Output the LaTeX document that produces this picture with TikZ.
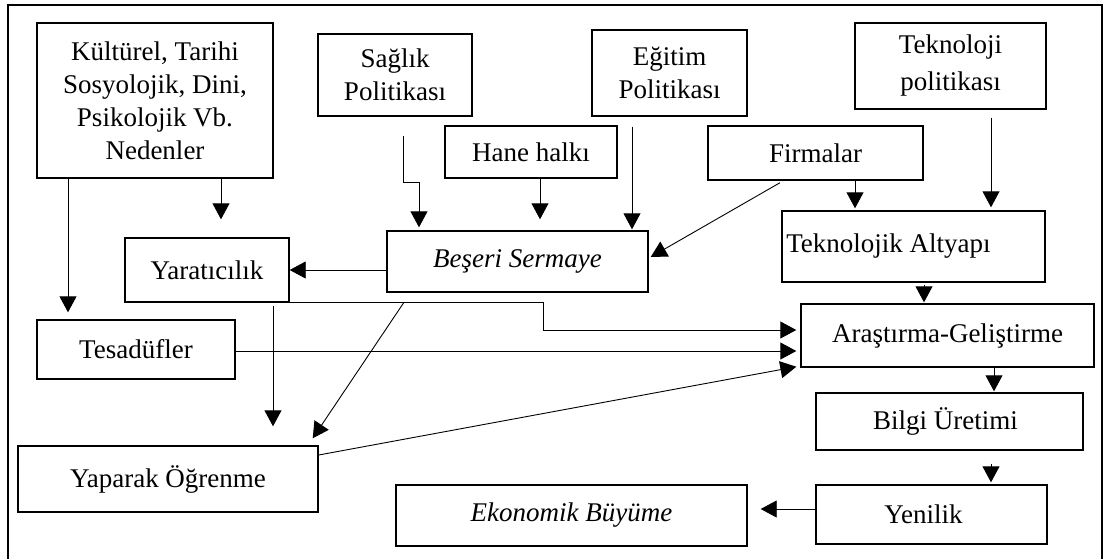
\documentclass[tikz,border=0pt]{standalone}
\usepackage{fontspec}
\setmainfont{Liberation Serif}
\usetikzlibrary{arrows.meta,calc}
\begin{document}
\begin{tikzpicture}[x=1pt,y=-1pt,
  box/.style={draw, line width=1.4pt, align=center, inner sep=0pt, font=\fontsize{27}{33}\selectfont},
  arr/.style={line width=0.9pt, -{Triangle[length=16pt,width=17pt]}},
  frame/.style={line width=2.2pt}]
\useasboundingbox (0,0) rectangle (1105,558);
\draw[frame] (8,560) -- (8,5) -- (1102,5) -- (1102,560);

\node[box, minimum width=236pt, minimum height=155pt] (kult) at (155,100.5) {Kültürel, Tarihi\\Sosyolojik, Dini,\\Psikolojik Vb.\\Nedenler};
\node[box, minimum width=154pt, minimum height=82pt] (sag) at (395,75) {Sağlık\\Politikası};
\node[box, minimum width=155pt, minimum height=86pt] (egit) at (669.5,73) {Eğitim\\Politikası};
\node[box, minimum width=191pt, minimum height=86pt, font=\fontsize{27}{37}\selectfont] (tpol) at (950.5,66) {Teknoloji\\politikası};
\node[box, minimum width=172pt, minimum height=52pt] (hane) at (531,152) {Hane halkı};
\node[box, minimum width=215pt, minimum height=54pt] (firma) at (815.5,153) {Firmalar};
\node[box, minimum width=261pt, minimum height=61pt] (beseri) at (517.5,261.5) {\textit{Beşeri Sermaye}};
\node[box, minimum width=164pt, minimum height=64pt] (yarat) at (207,270) {Yaratıcılık};
\node[box, minimum width=263pt, minimum height=71pt] (talt) at (913.5,246.5) {\hspace*{-50pt}Teknolojik Altyapı};
\node[box, minimum width=198pt, minimum height=59pt] (tesad) at (136,349.5) {Tesadüfler};
\node[box, minimum width=293pt, minimum height=63pt] (arge) at (947.5,335.5) {Araştırma-Geliştirme};
\node[box, minimum width=267pt, minimum height=57pt] (bilgi) at (949.5,421.5) {\hspace*{-8pt}Bilgi Üretimi};
\node[box, minimum width=300pt, minimum height=66pt] (yapar) at (168,479) {Yaparak Öğrenme};
\node[box, minimum width=351pt, minimum height=61pt] (ekon) at (571.5,515.5) {\textit{Ekonomik Büyüme}};
\node[box, minimum width=231pt, minimum height=59pt] (yenil) at (931.5,514.5) {\hspace*{-16pt}Yenilik};

% connectors
\draw[arr, shorten >=18pt] ($(kult.south)+(66,0)$) -- ($(yarat.north)+(14,0)$);
\draw[arr, shorten >=7pt] ($(kult.south)+(-87,0)$) -- ($(tesad.north)+(-68,0)$);
\draw[arr, shorten <=19pt, shorten >=3pt] ($(sag.south)+(8,0)$) -- ++(0,66) -| ($(beseri.north)+(-98.5,0)$);
\draw[arr, shorten >=11pt] ($(hane.south)+(9,0)$) -- ($(beseri.north)+(22.5,0)$);
\draw[arr, shorten <=10pt, shorten >=1pt] ($(egit.south)+(-37.5,0)$) -- ($(beseri.north)+(114.5,0)$);
\draw[arr] ($(firma.south)+(-35.5,2)$) -- ($(beseri.east)+(2,-4.5)$);
\draw[arr, shorten >=2pt] ($(firma.south)+(39.5,0)$) -- ($(talt.north)+(-58.5,0)$);
\draw[arr, shorten <=8pt, shorten >=3pt] ($(tpol.south)+(40.5,0)$) -- ($(talt.north)+(77.5,0)$);
\draw[arr] ($(beseri.west)+(0,8.5)$) -- (yarat.east);
\draw[arr, shorten >=4pt] (yarat.south east) -- ++(254,0) |- ($(arge.west)+(0,-5.5)$);
\draw[arr, shorten >=4pt] ($(tesad.east)+(0,1.5)$) -- ($(arge.west)+(0,15.5)$);
\draw[arr, shorten >=4pt] ($(yapar.east)+(0,-24)$) -- ($(arge.west)+(0,30.5)$);
\coordinate (bsy) at ($(yarat.south east)+(114,0)$);
\draw[arr] (bsy) -- ($(yapar.north east)+(-6,-7)$);
\draw[arr, shorten <=3pt, shorten >=19pt] ($(yarat.south)+(66,0)$) -- ($(yapar.north)+(105,0)$);
\draw[arr, shorten <=2pt, shorten >=1pt] ($(talt.south)+(10.5,0)$) -- ($(arge.north)+(-23.5,0)$);
\draw[arr, shorten >=1pt] ($(arge.south)+(46.5,0)$) -- ($(bilgi.north)+(44.5,0)$);
\draw[arr, shorten <=13pt, shorten >=2pt] ($(bilgi.south)+(41.5,0)$) -- ($(yenil.north)+(59.5,0)$);
\draw[arr, shorten >=13pt] ($(yenil.west)+(0,-5.5)$) -- ($(ekon.east)+(0,-6.5)$);
\end{tikzpicture}
\end{document}
